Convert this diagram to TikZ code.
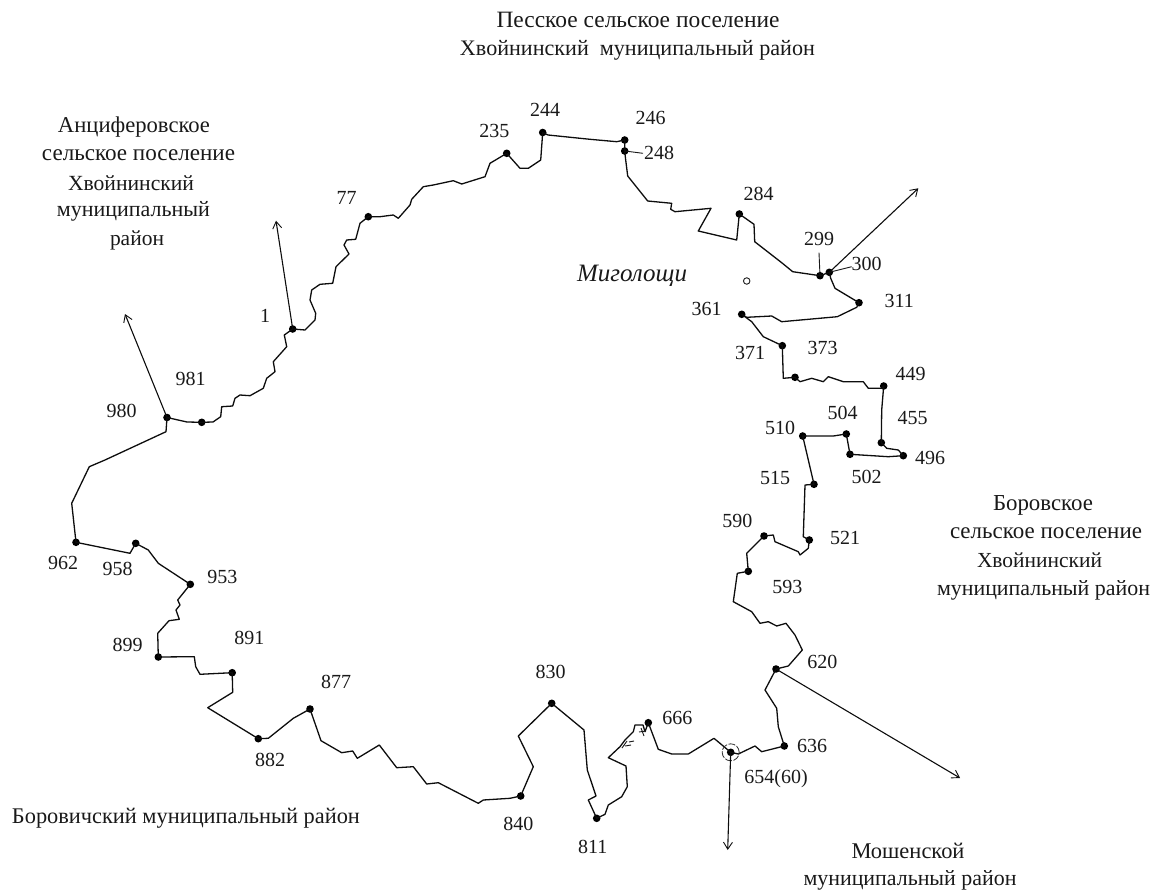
\documentclass[tikz,border=0pt]{standalone}
\usepackage{fontspec}
\usepackage{graphicx}
\setmainfont{Liberation Serif}
\usetikzlibrary{arrows.meta}
\tikzset{
  dot/.style={circle,fill=black,draw=none,inner sep=0pt,minimum size=7.6pt},
  lbl/.style={inner sep=0pt,font=\fontsize{20}{24}\selectfont,text=black!90},
  edge/.style={line width=1.3pt,line join=round,draw=black!95},
  tick/.style={line width=0.9pt,draw=black!90},
  pointer/.style={line width=1.1pt,draw=black!95,-{Straight Barb[length=7pt,width=9pt,line width=0.9pt]}},
}
\newcommand{\lab}[3]{\node[lbl] (#1) at #2 {#3};}
\newcommand{\fit}[4]{\node[lbl] (#1) at #2 {\resizebox{#3pt}{!}{#4}};}
\begin{document}
\begin{tikzpicture}[x=1pt,y=-1pt]
\useasboundingbox (0,0) rectangle (1168,891);
% dots
\foreach \n/\p in {980/{167,417.5},981/{201.7,422.3},1/{292.7,329},77/{368.3,216.7},235/{506.7,153.3},244/{542.7,132.5},246/{624.7,140},248/{624.7,151},284/{739.3,214},299/{820,275.7},300/{829.3,272.3},311/{859,302.7},361/{741.7,314.3},373/{782.3,345.7},374/{795,377.3},449/{883.7,386},455/{881.3,442.7},496/{903.3,455.7},502/{850,454.3},504/{846.3,434},510/{802.7,436},515/{814,484.3},521/{809.3,540},590/{764,536},593/{748.3,571.3},620/{776,669},636/{784.3,746},654/{730.7,752.3},666/{648.3,722.7},811/{596.7,818.3},830/{551.7,703.3},840/{520.7,796},877/{310,709},882/{258.3,738.7},891/{232.2,672.7},899/{158.3,657},953/{190.3,584.3},958/{135.7,543.3},962/{76,542.3}}
  {\node[dot] (n\n) at (\p) {};}
% boundary
\draw[edge] (n980.center) -- (187,422) -- (n981.center) -- (213,422) -- (220.7,416.7) -- (221.7,406.7) -- (232.7,406) -- (235,398.3) -- (240,395) -- (250,395.7) -- (263.3,388.3) -- (266.7,378.3) -- (275,371.7) -- (273.3,361.7) -- (286.7,346.7) -- (284.3,335) -- (n1.center)
 -- (305,330) -- (315,320) -- (315.7,313.3) -- (310,300) -- (311.7,290) -- (320,284.3) -- (332.7,283.3) -- (336,266.7) -- (349,254) -- (344,245) -- (346.7,240) -- (355.7,239.3) -- (360,223.3) -- (n77.center)
 -- (380,216.7) -- (393.3,215) -- (398.3,218.3) -- (410,205) -- (411.7,199.3) -- (423.3,186.7) -- (433.3,185) -- (453.3,180.7) -- (461.7,184) -- (485,176.7) -- (490,163.3) -- (n235.center)
 -- (520,168.3) -- (528.3,168.3) -- (540.7,160) -- (n244.center)
 -- (548,135) -- (590,139.3) -- (616.7,141.7) -- (n246.center) -- (n248.center)
 -- (625.7,160) -- (627.7,176) -- (647.7,201) -- (671.7,203.3) -- (670.7,209.3) -- (675,211.7) -- (711,208.3) -- (698.3,231) -- (736.7,240) -- (n284.center)
 -- (754,224.3) -- (754.7,241.7) -- (781.7,262.7) -- (792.7,271.7) -- (n299.center) -- (n300.center)
 -- (830.7,278.3) -- (835,288.3) -- (n311.center)
 -- (856.7,307.3) -- (837.3,316.7) -- (781.7,321.7) -- (771.7,316) -- (746.7,317.3) -- (n361.center)
 -- (751.7,321.7) -- (763.3,336.7) -- (n373.center)
 -- (783.3,378.3) -- (n374.center)
 -- (800,381.7) -- (811.7,378.3) -- (823.3,381.7) -- (828.3,376.7) -- (843.3,381.7) -- (863.3,381.7) -- (868.3,388.3) -- (881.7,388.3) -- (n449.center)
 -- (881.7,410) -- (n455.center)
 -- (886.7,448.3) -- (898.3,450) -- (n496.center)
 -- (888.3,456.7) -- (n502.center) -- (n504.center) -- (833.3,436) -- (n510.center) -- (n515.center)
 -- (805,485) -- (803.3,536.7) -- (n521.center)
 -- (808.3,548.3) -- (800,555) -- (798.3,551.7) -- (775,541.7) -- (773.3,535) -- (n590.center)
 -- (746.7,553.3) -- (n593.center)
 -- (737.3,573.3) -- (733.3,601.7) -- (751.7,611.7) -- (760,623.3) -- (768.3,621.7) -- (776.7,626) -- (786,623.3) -- (795,635) -- (802.3,650) -- (788.3,666) -- (n620.center)
 -- (765,690) -- (776.7,708.3) -- (778.3,726.7) -- (n636.center)
 -- (761.7,751.7) -- (755,746) -- (738.3,754) -- (n654.center)
 -- (714,738.3) -- (688.3,754) -- (671.7,754) -- (658.3,749.3) -- (n666.center)
 -- (645,731.7) -- (643,725) -- (635,725) -- (633.3,731.7) -- (625,740) -- (620,746.7) -- (608.3,757.7) -- (626,766) -- (627.3,786.7) -- (621.7,796.7) -- (608.3,805) -- (605,814.3) -- (n811.center)
 -- (588.3,800) -- (596,796) -- (587.3,770) -- (584,730) -- (n830.center)
 -- (518.3,736) -- (533.3,766.7) -- (n840.center)
 -- (510,798.3) -- (483.3,800) -- (478.3,803.3) -- (438.3,782.7) -- (426.7,784) -- (413.3,766.7) -- (396.7,767.7) -- (379.3,745) -- (357.3,758.3) -- (352.7,751) -- (341.7,752.7) -- (321,740.7) -- (n877.center)
 -- (293.3,718.3) -- (268.3,738.3) -- (n882.center)
 -- (207.7,707.7) -- (232.7,692.3) -- (n891.center)
 -- (200,674.3) -- (195.7,666.7) -- (194.3,656.7) -- (n899.center)
 -- (157.7,633.3) -- (169,620.7) -- (179.3,619.3) -- (176,610) -- (180,605) -- (177.7,600) -- (n953.center)
 -- (158.3,563.3) -- (148.3,550) -- (n958.center)
 -- (130,553.3) -- (n962.center)
 -- (71.7,503.3) -- (89.3,466.7) -- (105,460) -- (166,431.7) -- (n980.center);
% small marks near 666
\draw[tick] (622,748) -- (627,741) (625,746) -- (631,745) (629,742) -- (634,741) (641,728) -- (644,736) (639,732) -- (646,731);
% open circle of the village and the ring at 654
\node[draw=black!90,circle,line width=0.9pt,inner sep=0pt,minimum size=6.5pt] (village) at (746.7,281) {};
\node[draw=black!80,circle,line width=0.8pt,inner sep=0pt,minimum size=17pt,dash pattern=on 7pt off 1.5pt] (ring) at (n654) {};
% ticks
\coordinate (t299) at (819,252.7);
\coordinate (t300) at (851.7,266.7);
\coordinate (t248) at (643,153.3);
\draw[tick] (n299.center) -- (t299);
\draw[tick] (n300.center) -- (t300);
\draw[tick] (n248.center) -- (t248);
% pointers
\coordinate (a1) at (276,220.7);
\coordinate (a2) at (125,314);
\coordinate (a3) at (918.3,188.3);
\coordinate (a4) at (960,778);
\coordinate (a5) at (727.7,850);
\draw[pointer] (n1.center) -- (a1);
\draw[pointer] (n980.center) -- (a2);
\draw[pointer] (n300.center) -- (a3);
\draw[pointer] (n620.center) -- (a4);
\draw[pointer] (n654.center) -- (a5);
% numbers
\lab{l244}{(545,110)}{244}
\lab{l246}{(650.7,118.3)}{246}
\lab{l248}{(659,153.3)}{248}
\lab{l235}{(494.3,130.7)}{235}
\lab{l284}{(758.7,194)}{284}
\lab{l299}{(819,239.3)}{299}
\lab{l300}{(866.7,264)}{300}
\lab{l311}{(899.3,300.7)}{311}
\lab{l361}{(706.7,308.7)}{361}
\lab{l371}{(750,352.7)}{371}
\lab{l373}{(822.7,347.7)}{373}
\lab{l449}{(910.7,374.3)}{449}
\lab{l504}{(842.7,412.7)}{504}
\lab{l510}{(780,427.7)}{510}
\lab{l455}{(912.7,418.3)}{455}
\lab{l496}{(930,457.7)}{496}
\lab{l502}{(866.7,476.7)}{502}
\lab{l515}{(775,477.7)}{515}
\lab{l590}{(737.3,520.7)}{590}
\lab{l521}{(845,538.3)}{521}
\lab{l593}{(787.3,586.7)}{593}
\lab{l620}{(822.3,661.7)}{620}
\lab{l830}{(550.7,671.7)}{830}
\lab{l666}{(677.3,718.3)}{666}
\lab{l636}{(812,746)}{636}
\lab{l654}{(776,778.3)}{654(60)}
\lab{l840}{(518.3,824)}{840}
\lab{l811}{(592.7,847.3)}{811}
\lab{l877}{(336,681.7)}{877}
\lab{l882}{(270,760)}{882}
\lab{l980}{(121.7,410.7)}{980}
\lab{l962}{(63,563.3)}{962}
\lab{l958}{(117.7,569.3)}{958}
\lab{l953}{(222.3,577.3)}{953}
\lab{l899}{(127.7,645)}{899}
\lab{l891}{(249.3,638.3)}{891}
\lab{l981}{(190.7,379)}{981}
\lab{l1}{(265,315.7)}{1}
\lab{l77}{(346.7,198.3)}{77}
% place names
\fit{villagename}{(632,276)}{110}{\itshape Миголощи}
\fit{t1}{(638,20)}{283}{Песское сельское поселение}
\fit{t2}{(637.5,50)}{355}{Хвойнинский\ \ муниципальный район}
\fit{w1}{(134,127)}{152}{Анциферовское}
\fit{w2}{(138.5,155)}{193}{сельское поселение}
\fit{w3}{(131,183)}{126}{Хвойнинский}
\fit{w4}{(133.5,211)}{153}{муниципальный}
\fit{w5}{(137,240)}{54}{район}
\fit{e1}{(1043,505)}{100}{Боровское}
\fit{e2}{(1046,533)}{192}{сельское поселение}
\fit{e3}{(1039.5,560)}{125}{Хвойнинский}
\fit{e4}{(1043.5,590)}{213}{муниципальный район}
\fit{s1}{(186,818)}{348}{Боровичский муниципальный район}
\fit{m1}{(908,851)}{113}{Мошенской}
\fit{m2}{(910,880)}{213}{муниципальный район}
\end{tikzpicture}
\end{document}
